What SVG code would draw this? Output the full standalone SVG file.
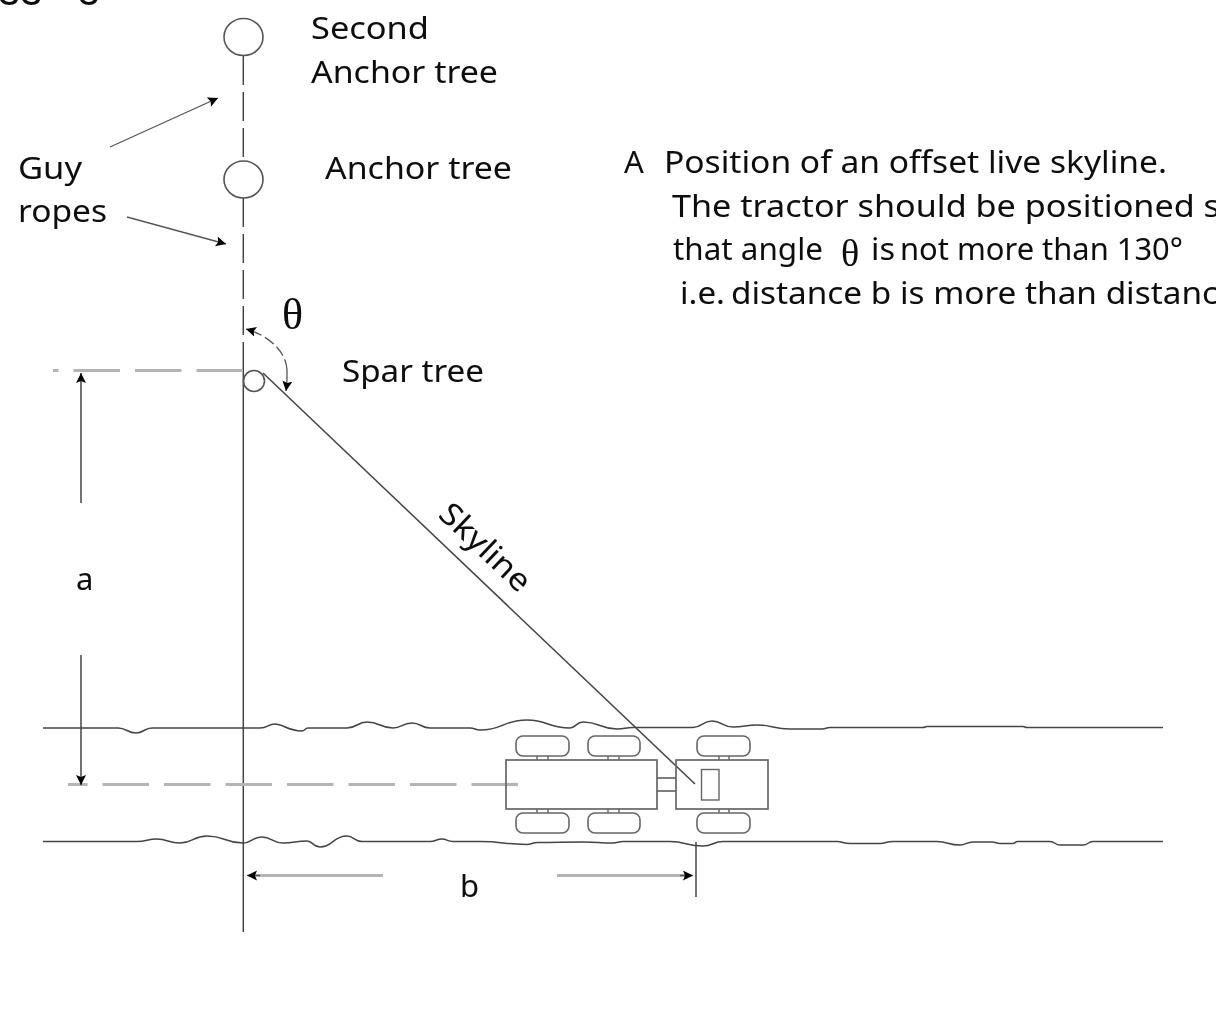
<svg xmlns="http://www.w3.org/2000/svg" width="1216" height="1011" viewBox="0 0 1216 1011">
<style>
text{font-family:"Noto Sans","Open Sans","Liberation Sans",sans-serif;font-size:31px;fill:#0c0c0c}
.ln{fill:none;stroke:#444;stroke-width:1.5}
.fine{fill:none;stroke:#555;stroke-width:1.3}
.gr{fill:none;stroke:#b4b4b4;stroke-width:3.2}
.sh{fill:#fff;stroke:#555;stroke-width:1.6}
.wh{fill:#fff;stroke:#666;stroke-width:1.6}
.bx{fill:none;stroke:#666;stroke-width:1.7}
</style>
<defs>
<marker id="ah" markerUnits="userSpaceOnUse" markerWidth="12" markerHeight="12" refX="10" refY="5" orient="auto"><path d="M0 0L10 5L0 10L2 5Z" fill="#000"/></marker>
<filter id="soft" x="0" y="0" width="1216" height="1011" filterUnits="userSpaceOnUse"><feGaussianBlur stdDeviation="0.5"/></filter>
</defs>
<rect width="1216" height="1011" fill="#fff"/>
<g filter="url(#soft)">
<text id="clipped-title" x="-2" y="5" style="font-family:'Liberation Sans',sans-serif;font-size:40px;fill:#111">33 - 5</text>

<g id="connectors">
  <path id="pole" class="ln" d="M243.300 371V932"/>
  <path id="guy-rope-upper" class="ln" stroke-dasharray="29 7" d="M243.300 56V161"/>
  <path id="guy-rope-lower" class="ln" stroke-dasharray="29 7" d="M243.300 198V371"/>
  <path id="arrow-guy-1" class="fine" marker-end="url(#ah)" d="M110 147L218 98"/>
  <path id="arrow-guy-2" class="fine" marker-end="url(#ah)" d="M127 217L226 244"/>
  <path id="theta-arc-a" class="fine" stroke-dasharray="11 4" marker-end="url(#ah)" d="M287 370C286 352 270 336 246 329"/>
  <path id="theta-arc-b" class="fine" marker-end="url(#ah)" d="M287 370Q287.500 380 286 391"/>
  <path id="spar-datum" class="gr" stroke-dasharray="46.500 15" d="M243 370.500H53"/>
  <path id="tractor-datum" class="gr" stroke-dasharray="46.500 15" d="M518 784.500H68"/>
  <path id="arrow-a-up" class="ln" marker-end="url(#ah)" d="M81 503V373"/>
  <path id="arrow-a-down" class="ln" marker-end="url(#ah)" d="M81 655V785"/>
  <path id="arrow-b-left" class="gr" d="M383 875.500H256"/>
  <path id="arrow-b-left-head" class="fine" marker-end="url(#ah)" d="M260 875.500H247"/>
  <path id="arrow-b-right" class="gr" d="M557 875.500H686"/>
  <path id="arrow-b-right-head" class="fine" marker-end="url(#ah)" d="M680 875.500H693"/>
  <path id="b-tick" class="ln" d="M696 842V897"/>
  <path id="bank-top" class="ln" d="M43 728H118C127 728 127 733 136 733C144 733 144 728 152 728H260C268 728 268 724 275 724C283 724 288 731 302 731C305 731 305 728 308 728H347C357 728 357 722 367 722C380 722 380 728 393 728C402 728 402 723 412 723C421 723 421 728 430 728H470C475 728 475 730 480 730C503 730 503 720 527 720C548 720 548 728 570 728C576 728 576 722 583 722C600 722 600 729 617 729C625 729 625 727.500 633 727.500H693C702 727.500 702 721 712 721C722 721 722 727 733 727C745 727 745 725 757 725C773 725 773 729 790 729H822C826 729 826 727.500 830 727.500H923C925 727.500 925 726.500 927 726.500H1023C1025 726.500 1025 727.500 1027 727.500H1163"/>
  <path id="bank-bottom" class="ln" d="M43 841.500H137C147 841.500 147 839 157 839C168 839 168 843 180 843C193 843 193 836 207 836C225 836 225 843 243 843C252 843 252 837 262 837C272 837 272 843 283 843C295 843 295 841 307 841C313 841 313 847 320 847C333 847 333 836 347 836C354 836 354 841.500 362 841.500H430C436 841.500 436 839 442 839C447 839 447 841.500 453 841.500H480C503 841.500 503 844.500 527 844.500C532 844.500 532 842.500 538 842.500C560 842.500 560 842 583 842C598 842 598 843 613 843C618 843 618 841.500 623 841.500H670C686 841.500 686 846 703 846C713 846 713 841.500 723 841.500H837C843 841.500 843 843.500 850 843.500H880C886 843.500 886 841.500 893 841.500H937C948 841.500 948 845 960 845C966 845 966 842 973 842H992C996 842 996 843.500 1000 843.500H1013C1015 843.500 1015 841.500 1018 841.500H1050C1055 841.500 1055 845 1060 845H1083C1088 845 1088 841.500 1093 841.500H1163"/>
  <path id="skyline" class="ln" d="M263 373L695 784"/>
</g>

<g id="second-anchor-tree"><ellipse class="sh" cx="243.500" cy="37" rx="19.500" ry="18.500"/></g>
<g id="anchor-tree"><ellipse class="sh" cx="243.500" cy="179.500" rx="19.500" ry="18.500"/></g>
<g id="spar-tree"><circle class="sh" style="fill:none" cx="254" cy="381" r="10.500"/></g>

<g id="tractor">
  <path class="fine" d="M537 756V760M548 756V760M608 756V760M619 756V760M719 756V760M729 756V760M537 809V813M548 809V813M608 809V813M619 809V813M719 809V813M729 809V813M657 778H676M657 791H676"/>
  <rect class="wh" x="516" y="736" width="53" height="20" rx="7"/>
  <rect class="wh" x="588" y="736" width="52" height="20" rx="7"/>
  <rect class="wh" x="697" y="736" width="53" height="20" rx="7"/>
  <rect class="wh" x="516" y="813" width="53" height="20" rx="7"/>
  <rect class="wh" x="588" y="813" width="52" height="20" rx="7"/>
  <rect class="wh" x="697" y="813" width="53" height="20" rx="7"/>
  <rect class="bx" x="506" y="760" width="151" height="49"/>
  <rect class="bx" x="676" y="760" width="92" height="49"/>
  <rect class="bx" style="stroke-width:1.400" x="701.500" y="769.500" width="17.500" height="30.500"/>
</g>

<g id="labels">
  <text x="311" y="39" textLength="118" lengthAdjust="spacingAndGlyphs">Second</text>
  <text x="311" y="83" textLength="187" lengthAdjust="spacingAndGlyphs">Anchor tree</text>
  <text x="325" y="179" textLength="187" lengthAdjust="spacingAndGlyphs">Anchor tree</text>
  <text x="18" y="179" textLength="64" lengthAdjust="spacingAndGlyphs">Guy</text>
  <text x="18" y="222" textLength="89" lengthAdjust="spacingAndGlyphs">ropes</text>
  <text x="342" y="382" textLength="142" lengthAdjust="spacingAndGlyphs">Spar tree</text>
  <text x="282" y="329" style="font-family:'Liberation Serif',serif;font-size:44px">θ</text>
  <text x="76" y="590">a</text>
  <text x="460" y="897">b</text>
  <text transform="translate(437 516) rotate(43.500)" textLength="113" lengthAdjust="spacingAndGlyphs">Skyline</text>
  <text x="624" y="173">A</text>
  <text x="664" y="173" textLength="503" lengthAdjust="spacingAndGlyphs">Position of an offset live skyline.</text>
  <text x="672" y="217" textLength="548" lengthAdjust="spacingAndGlyphs">The tractor should be positioned s</text>
  <text x="673" y="260" textLength="150" lengthAdjust="spacingAndGlyphs">that angle</text>
  <text x="841" y="266" style="font-family:'Liberation Serif',serif;font-size:38px">θ</text>
  <text x="871" y="260" textLength="24" lengthAdjust="spacingAndGlyphs">is</text>
  <text x="900" y="260" textLength="283" lengthAdjust="spacingAndGlyphs">not more than 130°</text>
  <text x="680" y="304" textLength="45" lengthAdjust="spacingAndGlyphs">i.e.</text>
  <text x="731" y="304" textLength="487" lengthAdjust="spacingAndGlyphs">distance b is more than distanc</text>
</g>
</g>
</svg>
